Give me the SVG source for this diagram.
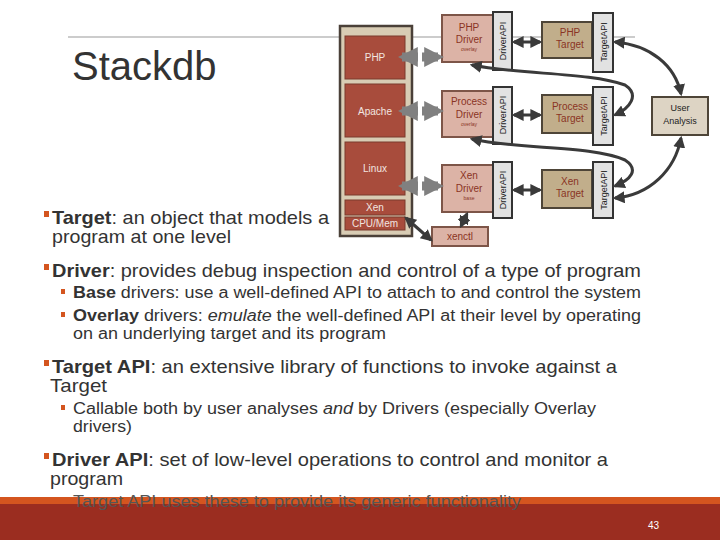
<svg xmlns="http://www.w3.org/2000/svg" width="720" height="540" viewBox="0 0 720 540">
<defs>
<marker id="ah" viewBox="0 0 10 10" refX="8" refY="5" markerWidth="4" markerHeight="4" orient="auto-start-reverse"><path d="M0,0L10,5L0,10z" fill="#3a3a3a"/></marker>
<marker id="gh" viewBox="0 0 10 10" refX="8" refY="5" markerWidth="2.2" markerHeight="3" orient="auto-start-reverse"><path d="M0,0L10,5L0,10z" fill="#808080"/></marker>
</defs>
<style>
.blk{fill:#a84c3c;stroke:#7a3a2c;stroke-width:1}
.drv{fill:#dcb3a6;stroke:#7d5548;stroke-width:2}
.tgt{fill:#c1ae8b;stroke:#4e4538;stroke-width:2}
.bar{fill:#e2e2e2;stroke:#333;stroke-width:2}
.wt{font-family:"Liberation Sans",Arial,sans-serif;font-size:10px;fill:#f2e6e0;text-anchor:middle}
.rt{font-family:"Liberation Sans",Arial,sans-serif;font-size:10px;fill:#8a3424;text-anchor:middle}
.bt{font-family:"Liberation Sans",Arial,sans-serif;font-size:9px;fill:#222;text-anchor:middle}
.sm{font-family:"Liberation Sans",Arial,sans-serif;font-size:5px;fill:#8a3424;text-anchor:middle}
.l1{font-family:"Liberation Sans",Arial,sans-serif;font-size:19px;fill:#333}
.l2{font-family:"Liberation Sans",Arial,sans-serif;font-size:16px;fill:#333}
.bu{fill:#d4551f}
.c{fill:none;stroke:#3a3a3a;stroke-width:3;marker-start:url(#ah);marker-end:url(#ah)}
.g{fill:none;stroke:#808080;stroke-width:9;stroke-dasharray:6,4;marker-start:url(#gh);marker-end:url(#gh)}
</style>
<rect width="720" height="540" fill="#fff"/>
<line x1="68" y1="37" x2="635" y2="37" stroke="#999" stroke-width="1"/>
<text x="72" y="80" font-family="Liberation Sans,Arial,sans-serif" font-size="40" fill="#333">Stackdb</text>

<g id="stack">
<rect x="340" y="26" width="72" height="210" fill="#d8ccb4" stroke="#4a4038" stroke-width="2.5"/>
<rect class="blk" x="345" y="36" width="60" height="43"/><text class="wt" x="375" y="61">PHP</text>
<rect class="blk" x="345" y="84" width="60" height="53"/><text class="wt" x="375" y="115">Apache</text>
<rect class="blk" x="345" y="142" width="60" height="53"/><text class="wt" x="375" y="172">Linux</text>
<rect class="blk" x="345" y="200" width="60" height="15"/><text class="wt" x="375" y="211" font-size="8">Xen</text>
<rect class="blk" x="345" y="217" width="60" height="13"/><text class="wt" x="375" y="227" font-size="8">CPU/Mem</text>
</g>

<g id="phpdriver"><rect class="drv" x="442" y="15" width="51" height="47"/><text class="rt" x="469" y="31">PHP</text><text class="rt" x="469" y="43">Driver</text><text class="sm" x="469" y="51">overlay</text></g>
<g id="procdriver"><rect class="drv" x="442" y="91" width="51" height="46"/><text class="rt" x="469" y="105">Process</text><text class="rt" x="469" y="118">Driver</text><text class="sm" x="469" y="126">overlay</text></g>
<g id="xendriver"><rect class="drv" x="442" y="165" width="51" height="47"/><text class="rt" x="469" y="179">Xen</text><text class="rt" x="469" y="192">Driver</text><text class="sm" x="469" y="200">base</text></g>
<g id="dapi1"><rect class="bar" x="493" y="12" width="19" height="58"/><text class="bt" transform="translate(506,41) rotate(-90)">DriverAPI</text></g>
<g id="dapi2"><rect class="bar" x="493" y="87" width="19" height="57"/><text class="bt" transform="translate(506,115) rotate(-90)">DriverAPI</text></g>
<g id="dapi3"><rect class="bar" x="493" y="162" width="19" height="56"/><text class="bt" transform="translate(506,190) rotate(-90)">DriverAPI</text></g>

<g id="phptarget"><rect class="tgt" x="542" y="22" width="50" height="36"/><text class="rt" x="570" y="36">PHP</text><text class="rt" x="570" y="48">Target</text></g>
<g id="proctarget"><rect class="tgt" x="542" y="95" width="50" height="38"/><text class="rt" x="570" y="110">Process</text><text class="rt" x="570" y="122">Target</text></g>
<g id="xentarget"><rect class="tgt" x="542" y="170" width="50" height="38"/><text class="rt" x="570" y="185">Xen</text><text class="rt" x="570" y="197">Target</text></g>
<g id="tapi1"><rect class="bar" x="593" y="13" width="20" height="59"/><text class="bt" transform="translate(607,42) rotate(-90)">TargetAPI</text></g>
<g id="tapi2"><rect class="bar" x="593" y="87" width="20" height="58"/><text class="bt" transform="translate(607,116) rotate(-90)">TargetAPI</text></g>
<g id="tapi3"><rect class="bar" x="593" y="162" width="20" height="56"/><text class="bt" transform="translate(607,190) rotate(-90)">TargetAPI</text></g>

<g id="user"><rect x="652" y="97" width="56" height="38" fill="#ddd4c4" stroke="#4e4538" stroke-width="2"/><text class="bt" x="680" y="111">User</text><text class="bt" x="680" y="124">Analysis</text></g>
<g id="xenctl"><rect class="drv" x="432" y="227" width="56" height="19"/><text class="rt" x="460" y="240" font-size="7" fill="#333">xenctl</text></g>

<g id="connectors">
<line class="g" x1="402" y1="57" x2="440" y2="57"/>
<line class="g" x1="402" y1="111" x2="440" y2="111"/>
<line class="g" x1="402" y1="186" x2="440" y2="186"/>
<line class="c" x1="514" y1="42" x2="540" y2="42"/>
<line class="c" x1="514" y1="115" x2="540" y2="115"/>
<line class="c" x1="514" y1="190" x2="540" y2="190"/>
<path class="c" d="M615,42 C650,45 675,65 681,94"/>
<path class="c" d="M615,198 C650,195 675,170 681,138"/>
<path class="c" d="M472,65 C520,75 590,72 625,85 C640,95 630,108 615,115"/>
<path class="c" d="M472,139 C520,150 590,145 625,160 C640,170 630,180 615,186"/>
<line class="c" x1="467" y1="214" x2="461" y2="226"/>
<line class="c" x1="406" y1="218" x2="431" y2="240"/>
</g>

<rect x="44" y="211" width="5" height="6" class="bu"/>
<text class="l1" x="52" y="224" textLength="277" lengthAdjust="spacingAndGlyphs"><tspan font-weight="bold">Target</tspan>: an object that models a</text>
<text class="l1" x="52" y="243" textLength="179" lengthAdjust="spacingAndGlyphs">program at one level</text>

<rect x="44" y="264" width="5" height="6" class="bu"/>
<text class="l1" x="52" y="277" textLength="589" lengthAdjust="spacingAndGlyphs"><tspan font-weight="bold">Driver</tspan>: provides debug inspection and control of a type of program</text>
<rect x="61" y="289" width="4" height="5" class="bu"/>
<text class="l2" x="73" y="298" textLength="568" lengthAdjust="spacingAndGlyphs"><tspan font-weight="bold">Base</tspan> drivers: use a well-defined API to attach to and control the system</text>
<rect x="61" y="312" width="4" height="5" class="bu"/>
<text class="l2" x="73" y="321" textLength="568" lengthAdjust="spacingAndGlyphs"><tspan font-weight="bold">Overlay</tspan> drivers: <tspan font-style="italic">emulate</tspan> the well-defined API at their level by operating</text>
<text class="l2" x="73" y="339" textLength="313" lengthAdjust="spacingAndGlyphs">on an underlying target and its program</text>

<rect x="44" y="360" width="5" height="6" class="bu"/>
<text class="l1" x="52" y="373" textLength="565" lengthAdjust="spacingAndGlyphs"><tspan font-weight="bold">Target API</tspan>: an extensive library of functions to invoke against a</text>
<text class="l1" x="50" y="392" textLength="57" lengthAdjust="spacingAndGlyphs">Target</text>
<rect x="61" y="405" width="4" height="5" class="bu"/>
<text class="l2" x="73" y="414" textLength="523" lengthAdjust="spacingAndGlyphs">Callable both by user analyses <tspan font-style="italic">and</tspan> by Drivers (especially Overlay</text>
<text class="l2" x="73" y="432" textLength="59" lengthAdjust="spacingAndGlyphs">drivers)</text>

<rect x="44" y="453" width="5" height="6" class="bu"/>
<text class="l1" x="52" y="466" textLength="556" lengthAdjust="spacingAndGlyphs"><tspan font-weight="bold">Driver API</tspan>: set of low-level operations to control and monitor a</text>
<text class="l1" x="50" y="485" textLength="73" lengthAdjust="spacingAndGlyphs">program</text>

<rect x="0" y="497" width="720" height="7" fill="#d4551f"/>
<rect x="0" y="504" width="720" height="36" fill="#9b2d20"/>
<text class="l2" x="73" y="507" textLength="448" lengthAdjust="spacingAndGlyphs" style="fill:#555">Target API uses these to provide its generic functionality</text>
<text x="648" y="529" font-family="Liberation Sans,Arial,sans-serif" font-size="10" fill="#fff">43</text>
</svg>
